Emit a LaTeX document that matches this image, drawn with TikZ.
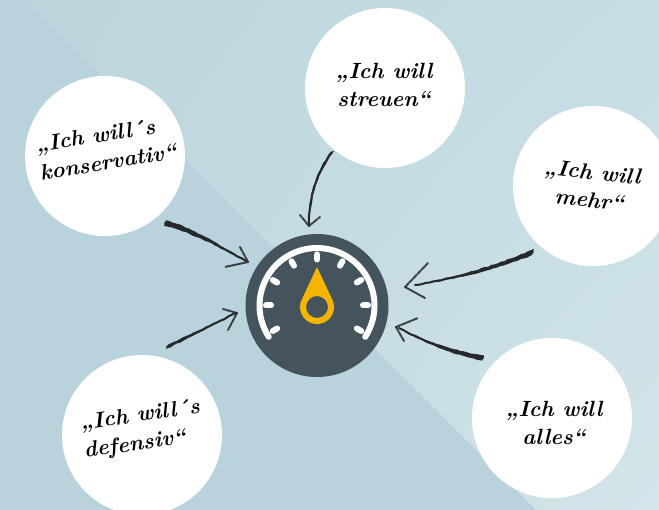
\documentclass[tikz,border=0pt]{standalone}
\usepackage{fontspec}
\usetikzlibrary{decorations.pathmorphing,shadings}
\definecolor{bgdark}{HTML}{B9D3DC}
\definecolor{bgtl}{HTML}{BBD5DC}
\definecolor{bgtr}{HTML}{C6DDE3}
\definecolor{bgbl}{HTML}{BFD8DF}
\definecolor{bgbr}{HTML}{D3E5E9}
\definecolor{gaugecol}{HTML}{44535C}
\definecolor{needle}{HTML}{F5B400}
\definecolor{chalkcol}{HTML}{26292B}
\tikzset{
  x=1pt,y=1pt,
  bubble/.style={circle,fill=white,minimum size=160pt,inner sep=0pt},
  say/.style={font=\fontsize{22}{28}\selectfont\bfseries\itshape,align=center,text=black,inner sep=0pt},
  sayleft/.style={say,align=left},
  chalkfill/.style={fill=chalkcol,decorate,decoration={random steps,segment length=3.5pt,amplitude=.5pt}},
  chalkline/.style={draw=chalkcol,line width=2pt,line cap=round,decorate,decoration={random steps,segment length=4pt,amplitude=.4pt}},
  barb/.style={draw=chalkcol,line width=2pt,line cap=round,dash pattern=on 5pt off 1pt,opacity=.85},
  tick/.style={draw=white,line width=6pt,line cap=round},
}
\newcommand\chalkshaft[6]{%
  \fill[chalkfill] ([shift={(#5,#6)}]#1)
    .. controls ([shift={({.7*#5},{.7*#6})}]#3) and ([shift={({.4*#5},{.4*#6})}]#4) .. (#2)
    .. controls ([shift={({-.4*#5},{-.4*#6})}]#4) and ([shift={({-.7*#5},{-.7*#6})}]#3) .. ([shift={({-#5},{-#6})}]#1) -- cycle;
  \draw[chalkline] (#1) .. controls (#3) and (#4) .. (#2);}
\pgfmathsetseed{7}
\begin{document}
\begin{tikzpicture}
\useasboundingbox (0,-510) rectangle (659,0);
% background
\fill[bgdark] (0,-510) rectangle (659,0);
\begin{scope}
  \clip (26,0) -- (659,0) -- (659,-510) -- (536,-510) -- cycle;
  \shade[lower left=bgbl,upper left=bgtl,lower right=bgbr,upper right=bgtr] (0,-510) rectangle (659,0);
\end{scope}
% bubbles
\node[bubble] (konservativ) at (105,-156) {};
\node[bubble] (streuen) at (385,-88) {};
\node[bubble] (mehr) at (593,-186) {};
\node[bubble] (alles) at (552,-418) {};
\node[bubble] (defensiv) at (142,-435) {};
% texts
\node[sayleft,rotate=9] (tk) at (106,-148) {„Ich will´s\\konservativ“};
\node[say] (ts) at (384,-85) {„Ich will\\streuen“};
\node[say,rotate=-6] (tm) at (591,-186) {„Ich will\\mehr“};
\node[say] (ta) at (554,-423) {„Ich will\\alles“};
\node[sayleft,rotate=8] (td) at (142,-430) {„Ich will´s\\defensiv“};
% gauge
\node[circle,fill=gaugecol,minimum size=143pt,inner sep=0pt] (gauge) at (317,-305.5) {};
\begin{scope}[shift={(gauge.center)}]
  \draw[white,line width=6pt,line cap=round] (213:57.5pt) arc[start angle=213,end angle=-33,radius=57.5pt];
  \foreach \a in {210,180,150,120,90,60,30,0,-30}
    \draw[tick] (\a:46pt) -- (\a:51pt);
  \fill[needle,even odd rule] (0,38.5) -- (15.4,5.7) arc[start angle=25.2,end angle=-205.2,radius=17pt] -- cycle
     (0,-1.5) circle[radius=11pt];
\end{scope}
% arrow ends
\coordinate (s1) at (165,-223); \coordinate (t1) at (246,-261); \coordinate (c1a) at (195,-231); \coordinate (c1b) at (222,-248);
\coordinate (b1a) at (240,-247); \coordinate (b1b) at (225,-267); \coordinate (h1) at (248,-262);
\coordinate (s2) at (332,-152); \coordinate (t2) at (309,-224); \coordinate (c2a) at (315,-175); \coordinate (c2b) at (309,-200);
\coordinate (b2a) at (300,-215); \coordinate (b2b) at (320,-217); \coordinate (h2) at (309,-226);
\coordinate (s3) at (533,-252); \coordinate (t3) at (415,-285); \coordinate (c3a) at (490,-270); \coordinate (c3b) at (455,-278);
\coordinate (b3a) at (428,-263); \coordinate (b3b) at (425,-298); \coordinate (h3) at (405,-287);
\coordinate (s4) at (483,-358); \coordinate (t4) at (399,-328); \coordinate (c4a) at (450,-352); \coordinate (c4b) at (425,-342);
\coordinate (b4a) at (418,-318); \coordinate (b4b) at (404,-341); \coordinate (h4) at (396,-327);
\coordinate (s5) at (167,-347); \coordinate (t5) at (236,-313); \coordinate (c5a) at (190,-336); \coordinate (c5b) at (212,-325);
\coordinate (b5a) at (223,-309); \coordinate (b5b) at (228,-330); \coordinate (h5) at (237,-313);
% shafts
\chalkshaft{s1}{t1}{c1a}{c1b}{.9}{2.8}
\chalkshaft{s2}{t2}{c2a}{c2b}{2}{1}
\chalkshaft{s3}{t3}{c3a}{c3b}{1}{3.2}
\chalkshaft{s4}{t4}{c4a}{c4b}{.9}{2.6}
\chalkshaft{s5}{t5}{c5a}{c5b}{1}{2.4}
% barbs
\foreach \i in {1,...,5} {
  \draw[barb] (h\i) -- (b\i a);
  \draw[barb] (h\i) -- (b\i b);
}
\end{tikzpicture}
\end{document}
